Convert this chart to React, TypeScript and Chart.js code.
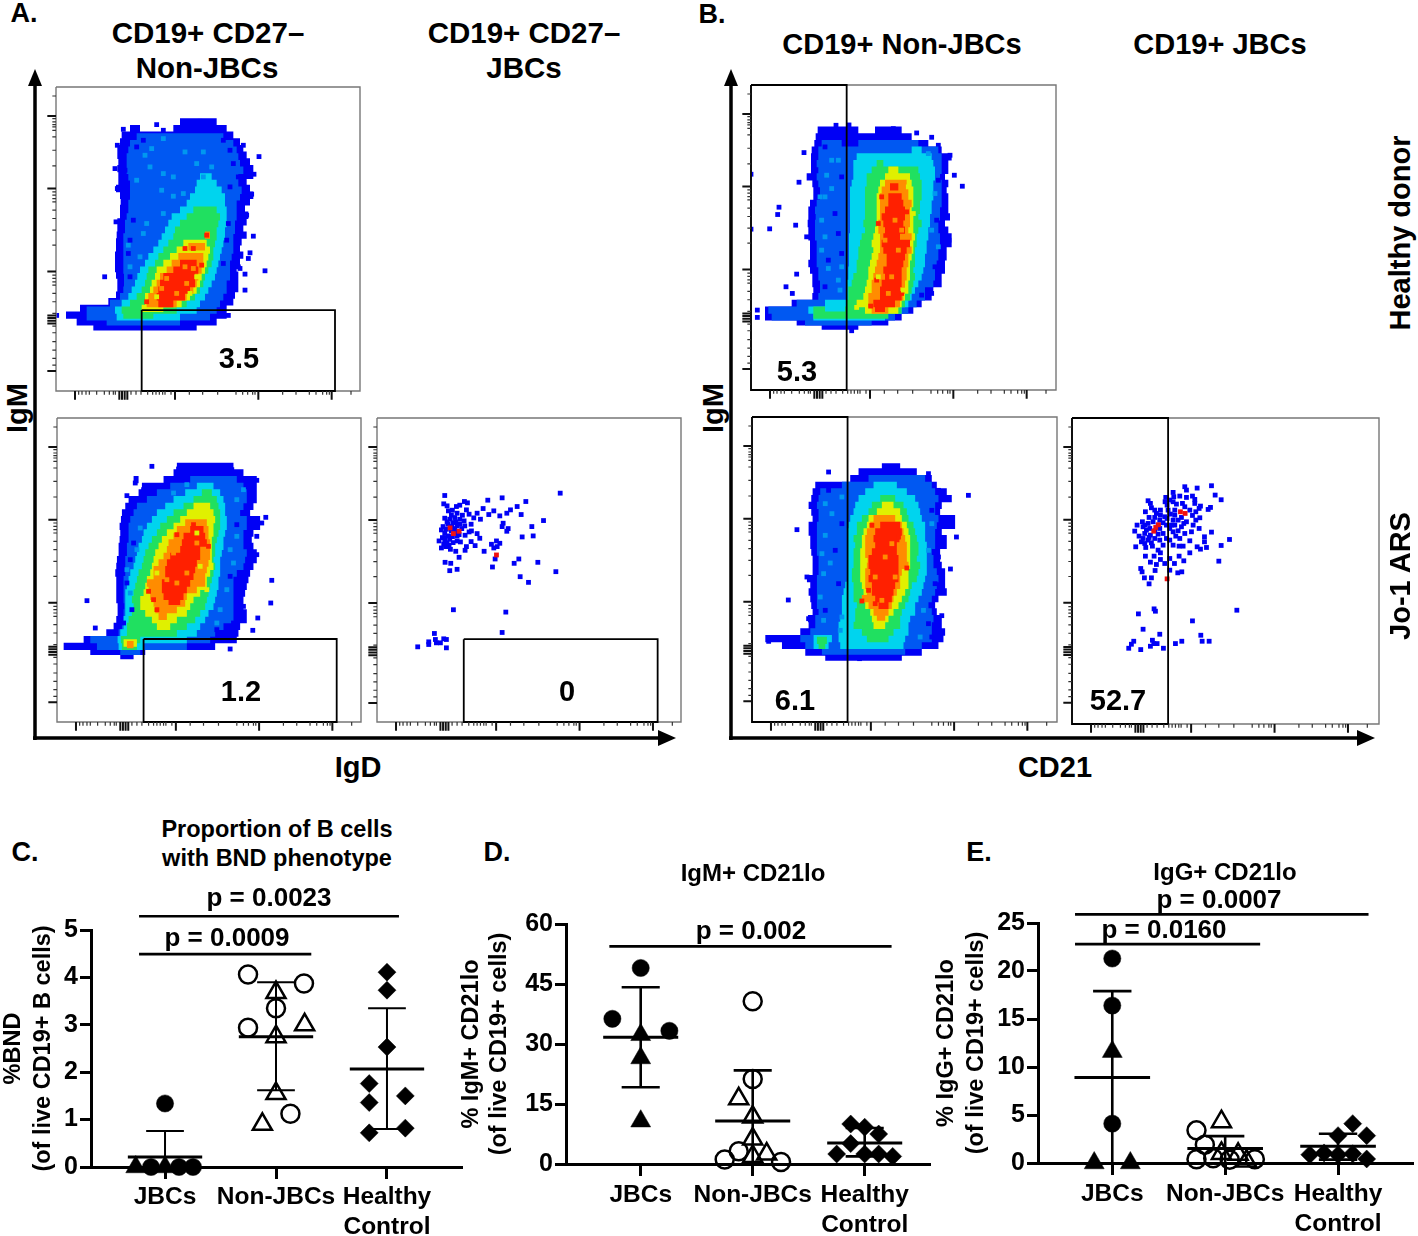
import React, { useEffect, useRef } from "react";
import { Chart, registerables } from "chart.js";

Chart.register(...registerables);

const FONT = '"Liberation Sans", Arial, sans-serif';
const DENSITY = ["#0000f5", "#0058f2", "#00d4ee", "#20e060", "#e0f000", "#ff8c00", "#ff2000"];
const LIGHT = "#0098f0";
type Row = [number, number, number];

// ---- Flow plots: density bands as [channelY, fromX, toX] rows ----
const p1Blue: Row[] = [[125,450,560],[145,300,330],[145,430,590],[165,275,610],[185,270,630],[205,262,640],[225,262,650],[245,265,660],[265,262,670],[285,265,670],[305,265,650],[325,258,660],[345,270,670],[365,272,660],[385,270,645],[405,270,655],[425,262,650],[445,262,640],[465,260,650],[485,258,635],[505,258,630],[525,255,640],[545,255,630],[565,255,620],[585,258,625],[605,262,625],[625,262,625],[645,258,615],[665,235,610],[685,150,590],[705,108,590],[725,140,560],[740,190,500]];
const p1Azure: Row[] = [[170,320,580],[190,300,610],[210,295,620],[230,290,625],[250,290,630],[270,290,640],[290,295,625],[310,300,625],[330,300,635],[350,300,630],[370,295,620],[390,295,620],[410,290,620],[430,285,615],[450,285,615],[470,280,610],[490,280,610],[510,280,610],[530,280,605],[550,280,600],[570,280,600],[590,282,600],[610,282,590],[630,280,590],[650,270,580],[670,240,570],[690,170,560],[710,170,540],[725,230,450]];
const p1Cyan: Row[] = [[290,510,545],[310,500,560],[330,495,575],[350,480,585],[370,470,585],[390,450,590],[410,425,590],[430,415,590],[450,405,585],[470,395,585],[490,385,580],[510,370,575],[530,355,570],[550,345,565],[570,330,560],[590,322,555],[610,315,545],[630,305,535],[650,295,525],[670,275,510],[690,255,500],[710,260,450]];
const p1Green: Row[] = [[390,490,560],[410,470,570],[430,450,565],[450,435,560],[470,430,560],[490,415,555],[510,400,550],[530,385,550],[550,375,545],[570,355,535],[590,350,525],[610,345,520],[630,335,510],[650,320,495],[670,300,470],[690,275,440],[705,280,370]];
const p1Yellow: Row[] = [[490,460,530],[510,440,540],[530,420,535],[550,400,530],[570,380,525],[590,375,515],[610,365,510],[630,360,500],[650,345,480],[670,345,455],[685,335,400]];
const p1Orange: Row[] = [[465,525,540],[500,475,525],[530,445,520],[550,425,520],[570,410,515],[590,390,505],[610,380,500],[630,370,490],[650,355,470],[670,350,440]];
const p1Red: Row[] = [[550,450,500],[570,430,505],[590,400,495],[610,390,495],[630,385,480],[650,380,465],[670,385,430]];
const p1Sparse = [[687,229],[705,572],[224,590],[670,468],[510,123],[380,133],[280,147],[645,630],[80,706],[660,518],[655,535],[630,565],[645,582],[595,706],[262,195],[255,265],[262,325],[400,150],[640,195],[650,250],[672,282],[665,342],[650,405],[625,560],[258,425]];
const p1Light = [[400,175],[345,225],[365,205],[465,215],[520,215],[430,348],[295,495],[340,460],[350,430],[395,330],[320,300],[400,280],[360,260],[500,250],[430,290],[460,340],[400,400],[330,530],[300,560],[545,260],[520,290]];
const p1Deep = [[320,200],[610,250],[600,320],[290,350],[310,420],[300,480],[295,520],[595,430],[590,480],[580,550],[300,590],[600,210],[580,180],[340,180],[285,270],[625,290]];
const p1HotA = [[465,560],[490,565],[410,595],[440,640],[395,625],[470,610]];
const p1HotB = [[530,465],[490,505],[515,555],[350,665],[465,505]];
const p1HotC = [[380,650],[500,590],[480,640]];

const p2Blue: Row[] = [[170,440,610],[190,430,640],[210,310,325],[210,400,680],[230,335,680],[250,325,680],[270,295,680],[290,285,670],[310,275,660],[330,272,690],[350,268,690],[370,270,670],[390,268,665],[410,265,670],[430,265,680],[450,260,680],[470,258,670],[490,255,660],[510,258,655],[530,258,650],[550,258,645],[570,258,640],[590,262,640],[610,262,650],[630,258,650],[650,250,630],[670,228,625],[690,160,620],[710,100,555],[725,180,345],[738,270,310]];
const p2Azure: Row[] = [[210,480,620],[230,420,640],[250,380,650],[270,350,650],[290,320,640],[310,310,630],[330,300,650],[350,295,650],[370,295,640],[390,295,640],[410,290,640],[430,290,650],[450,285,645],[470,285,640],[490,285,620],[510,280,610],[530,280,610],[550,280,610],[570,280,610],[590,282,610],[610,280,610],[630,280,610],[650,275,580],[670,265,555],[690,180,540],[710,200,470],[725,270,330]];
const p2Cyan: Row[] = [[230,500,550],[250,465,570],[270,430,580],[290,405,585],[310,380,585],[330,365,590],[350,350,590],[370,340,585],[390,335,580],[410,325,580],[430,320,575],[450,315,570],[470,310,570],[490,300,570],[510,295,565],[530,290,565],[550,285,560],[570,285,555],[590,285,550],[610,285,535],[630,280,525],[650,280,510],[670,270,500],[690,262,470],[710,265,340]];
const p2Green: Row[] = [[250,515,545],[270,490,560],[290,460,565],[310,430,570],[330,410,570],[350,390,570],[370,380,565],[390,365,560],[410,355,555],[430,345,555],[450,340,550],[470,335,555],[490,325,550],[510,320,545],[530,315,540],[550,310,535],[570,305,530],[590,310,525],[610,305,510],[630,295,495],[650,290,470],[670,290,440],[690,272,330],[710,275,320]];
const p2Yellow: Row[] = [[290,490,540],[310,470,550],[330,450,555],[350,430,550],[370,410,550],[390,395,545],[410,385,545],[430,375,545],[450,370,545],[470,365,550],[490,360,540],[510,350,530],[530,345,530],[550,340,510],[570,330,490],[590,330,480],[610,345,470],[630,365,440],[650,380,420],[700,280,320]];
const p2Orange: Row[] = [[340,465,530],[360,440,535],[380,430,535],[400,415,540],[420,410,540],[440,400,540],[460,385,535],[480,370,530],[500,370,525],[520,350,525],[540,355,500],[560,360,470],[580,370,465],[600,375,440],[620,385,410],[705,290,310]];
const p2Red: Row[] = [[360,480,520],[380,460,525],[400,455,530],[420,450,510],[440,420,510],[460,410,500],[480,405,495],[500,405,490],[520,395,480],[540,395,470],[560,400,460],[575,415,450]];
const p2Sparse = [[170,573],[722,580],[725,512],[707,323],[365,170],[600,718],[195,655],[683,625],[668,662],[290,258],[315,220],[340,240],[445,178],[605,180],[680,212],[695,340],[680,380],[680,435],[655,465],[640,590]];
const p2Light = [[470,225],[430,250],[330,355],[320,420],[290,480],[300,550],[620,380],[600,420],[610,460],[590,540],[570,600],[560,640],[640,240],[620,270]];
const p2Deep = [[300,310],[310,400],[300,450],[290,520],[600,500],[620,600],[610,640],[560,660],[640,310],[620,345],[305,600],[280,640]];
const p2HotA = [[430,430],[470,490],[500,400],[440,520],[410,510]];
const p2HotB = [[370,570],[380,600],[355,545],[440,375],[490,345],[535,410]];
const p2HotC = [[510,470],[530,540],[380,490],[500,370]];

const p3Blue = [[225,259],[222,284],[284,277],[293,281],[354,273],[397,266],[468,277],[571,252],[232,290],[260,292],[270,288],[340,298],[442,292],[422,302],[236,305],[248,303],[290,302],[372,305],[411,312],[454,316],[298,315],[322,312],[357,316],[390,320],[521,334],[312,326],[332,330],[225,327],[240,330],[255,325],[270,330],[283,335],[220,352],[215,362],[235,345],[250,340],[262,350],[276,358],[304,345],[400,342],[397,352],[415,358],[411,366],[486,352],[225,372],[235,380],[218,385],[262,380],[286,378],[298,368],[305,365],[322,373],[330,387],[457,383],[490,380],[208,395],[225,395],[240,390],[272,398],[304,397],[380,395],[390,402],[365,405],[222,405],[238,408],[215,416],[242,420],[290,412],[316,409],[372,416],[382,412],[258,426],[286,423],[343,426],[268,444],[376,449],[447,449],[433,462],[504,459],[226,459],[243,462],[368,473],[262,480],[240,484],[558,487],[451,502],[476,519],[251,601],[408,608],[397,669],[194,672],[197,690],[222,688],[230,690],[177,697],[200,700],[212,700],[177,705],[144,712],[230,715],[245,318],[262,312],[232,338],[246,352],[258,338],[270,345],[230,360],[245,365],[258,368],[268,376],[226,385],[248,382],[232,400],[250,400],[228,412],[262,395],[255,358],[278,318],[285,350]];
const p3Red = [[241,356],[268,366],[251,373],[380,437]];

const p4Blue: Row[] = [[150,278,400],[150,450,530],[170,272,560],[190,268,610],[210,260,650],[230,258,680],[250,258,670],[270,258,670],[290,245,660],[310,262,670],[330,265,665],[350,265,670],[370,255,670],[390,250,670],[410,250,675],[430,248,660],[450,250,670],[470,250,680],[490,255,680],[510,255,665],[530,255,665],[550,250,660],[570,255,660],[590,262,650],[610,262,650],[630,265,625],[650,262,620],[670,200,590],[690,120,565],[710,120,530],[725,215,490],[738,290,400]];
const p4Azure: Row[] = [[190,290,350],[190,400,580],[210,280,640],[230,280,650],[250,275,650],[270,280,650],[290,275,645],[310,280,650],[330,285,650],[350,285,650],[370,275,650],[390,270,645],[410,272,645],[430,270,640],[450,270,640],[470,270,645],[490,275,645],[510,275,640],[530,275,640],[550,275,635],[570,280,630],[590,280,630],[610,285,625],[630,285,600],[650,280,600],[670,215,575],[690,130,550],[710,140,510],[725,240,440]];
const p4Cyan: Row[] = [[210,560,590],[230,395,620],[250,385,625],[270,385,630],[290,385,630],[310,380,625],[330,375,625],[350,375,625],[370,375,620],[390,375,620],[410,375,615],[430,375,615],[450,375,610],[470,372,610],[490,372,605],[510,372,605],[530,372,600],[550,372,600],[570,370,595],[590,370,590],[610,365,580],[630,365,570],[650,365,560],[670,300,550],[690,250,530],[710,265,480]];
const p4Green: Row[] = [[250,455,475],[270,440,580],[290,425,585],[310,425,590],[330,420,590],[350,420,590],[370,420,585],[390,420,585],[410,420,580],[430,415,590],[450,420,580],[470,410,575],[490,405,575],[510,400,570],[530,400,570],[550,395,570],[570,395,565],[590,385,570],[610,380,565],[630,370,560],[650,370,555],[670,365,540],[690,265,300],[690,360,530],[705,265,490]];
const p4Yellow: Row[] = [[270,490,520],[290,480,555],[310,465,560],[330,460,565],[350,455,565],[370,455,565],[390,455,560],[410,455,565],[430,455,565],[450,450,565],[470,445,570],[490,440,565],[510,445,565],[530,440,560],[550,435,555],[570,430,555],[590,430,555],[610,425,550],[630,420,550],[650,415,540],[670,395,530],[690,420,520]];
const p4Orange: Row[] = [[310,480,545],[330,470,550],[350,465,550],[370,465,560],[390,465,555],[410,465,555],[430,460,555],[450,460,550],[470,465,560],[490,465,555],[510,465,560],[530,460,550],[550,455,550],[570,450,545],[590,445,545],[610,440,540],[630,440,540],[650,430,535],[670,430,525],[690,440,490]];
const p4Red: Row[] = [[320,495,520],[350,490,530],[370,490,535],[390,480,540],[410,470,540],[430,475,535],[450,480,540],[470,475,525],[490,470,555],[510,475,545],[530,485,540],[550,485,535],[570,475,530],[590,480,530],[610,470,530],[630,465,525],[650,465,530],[670,445,510],[685,450,480]];
const p4Sparse = [[333,135],[372,134],[237,217],[222,306],[162,381],[158,403],[134,446],[212,435],[78,447],[78,282],[215,582],[183,620],[202,640],[712,318],[688,285],[380,752],[620,171],[640,195],[672,480],[97,690],[97,712],[505,145],[575,158],[675,225],[245,470],[260,550]];
const p4Light = [[320,240],[340,240],[305,285],[320,325],[290,420],[300,470],[290,510],[310,565],[350,560],[300,350],[630,340],[620,450],[640,500],[345,630],[340,600],[285,350],[610,220]];
const p4Deep = [[300,200],[350,290],[330,400],[340,460],[350,520],[300,620],[640,300],[635,420],[630,560],[620,640],[590,645],[310,540]];
const p4HotA = [[510,420],[480,480],[520,510],[500,590],[490,640],[530,450]];
const p4HotB = [[470,350],[545,395],[460,430],[455,600],[530,640],[437,678]];
const p4HotC = [[550,320],[460,590],[535,630],[395,682],[565,400]];

const p5Blue: Row[] = [[170,470,525],[185,400,575],[205,375,620],[225,270,635],[245,262,665],[265,258,680],[285,250,650],[305,258,645],[325,262,690],[345,250,690],[365,250,650],[385,255,665],[405,255,665],[425,258,645],[445,262,645],[465,262,650],[485,262,660],[505,245,660],[525,255,660],[545,250,665],[565,255,640],[585,258,630],[605,262,635],[625,248,650],[645,250,650],[665,225,660],[685,120,655],[705,170,640],[725,240,590],[740,300,530]];
const p5Azure: Row[] = [[205,430,600],[225,350,620],[245,285,630],[265,280,640],[285,275,630],[305,280,630],[325,280,640],[345,275,635],[365,275,630],[385,275,630],[405,275,630],[425,275,620],[445,280,625],[465,280,625],[485,280,635],[505,275,640],[525,275,635],[545,275,630],[565,275,620],[585,275,610],[605,280,620],[625,270,625],[645,270,620],[665,255,620],[685,225,620],[705,240,590],[722,290,540]];
const p5Cyan: Row[] = [[225,445,515],[245,420,545],[265,400,570],[285,390,580],[305,385,585],[325,375,590],[345,370,600],[365,365,600],[385,365,600],[405,365,605],[425,365,605],[445,365,605],[465,365,605],[485,365,605],[505,365,600],[525,360,595],[545,355,590],[565,350,580],[585,350,570],[605,350,570],[625,345,555],[645,340,550],[665,340,550],[685,265,320],[685,340,540],[705,265,310],[705,345,535]];
const p5Green: Row[] = [[265,465,510],[285,440,535],[305,430,545],[325,410,550],[345,395,565],[365,395,570],[385,385,575],[405,390,580],[425,385,580],[445,385,575],[465,385,585],[485,380,580],[505,380,575],[525,385,560],[545,385,555],[565,385,550],[585,395,540],[605,390,530],[625,390,525],[645,385,525],[665,410,505],[685,425,490],[690,275,305],[705,280,300]];
const p5Yellow: Row[] = [[285,470,505],[305,455,525],[325,430,530],[345,425,545],[365,415,550],[385,410,555],[405,410,555],[425,405,555],[445,405,555],[465,405,555],[485,405,550],[505,405,550],[525,410,550],[545,415,540],[565,410,530],[585,420,520],[605,435,505],[625,440,490],[645,445,480]];
const p5Orange: Row[] = [[325,445,510],[345,435,530],[365,425,535],[385,420,540],[405,420,545],[425,420,545],[445,420,545],[465,425,550],[485,420,530],[505,420,525],[525,420,525],[545,425,515],[565,410,505],[585,430,500],[605,445,490],[620,455,480]];
const p5Red: Row[] = [[345,465,525],[365,450,530],[385,445,525],[405,450,515],[425,440,515],[445,430,520],[465,430,520],[485,435,520],[505,430,520],[525,440,510],[545,440,505],[565,450,500],[585,460,490]];
const p5Sparse = [[189,569],[215,358],[730,255],[694,380],[676,476],[650,616],[403,745],[310,185],[130,693],[140,687],[625,655],[245,500],[250,625],[610,190],[640,240]];
const p5Light = [[320,310],[300,375],[290,430],[315,458],[295,490],[285,560],[345,660],[350,620],[295,630],[620,340],[610,420],[595,600],[585,680],[350,260],[300,280]];
const p5Deep = [[310,240],[350,340],[330,420],[340,520],[300,600],[620,300],[640,440],[630,520],[610,640],[620,680]];
const p5HotA = [[500,400],[480,440],[450,500],[510,500],[470,570],[530,395]];
const p5HotB = [[440,345],[520,380],[545,473],[410,572],[430,540],[450,580]];
const p5HotC = [[540,520],[420,450],[490,300]];

const p6Blue = [[455,227],[375,230],[380,240],[412,234],[340,247],[466,255],[342,260],[360,258],[380,262],[398,258],[405,268],[484,269],[318,262],[265,272],[272,280],[316,275],[322,285],[340,275],[368,280],[405,280],[275,293],[257,305],[285,300],[302,300],[325,300],[345,300],[422,288],[452,292],[445,298],[408,305],[418,295],[290,310],[302,315],[345,315],[398,316],[420,323],[408,330],[248,335],[232,345],[265,340],[280,335],[300,330],[322,325],[340,330],[355,330],[380,335],[400,345],[418,355],[225,363],[250,350],[260,360],[300,355],[320,345],[345,345],[365,350],[238,378],[255,370],[272,375],[310,370],[340,365],[375,370],[395,365],[455,366],[245,395],[265,390],[285,385],[300,390],[330,390],[348,378],[390,392],[434,380],[434,395],[509,388],[228,410],[258,412],[278,408],[295,420],[340,405],[358,408],[370,408],[412,410],[422,417],[440,412],[484,406],[302,428],[390,428],[257,438],[283,438],[330,445],[358,438],[272,456],[302,448],[290,463],[315,460],[344,460],[372,452],[477,453],[243,475],[247,485],[286,481],[330,480],[354,488],[366,485],[254,503],[275,503],[268,521],[283,596],[287,603],[236,611],[531,600],[398,632],[250,657],[300,672],[423,675],[222,693],[278,690],[215,702],[207,714],[243,718],[272,708],[282,700],[292,700],[311,714],[347,700],[366,693],[427,693],[448,693],[268,322],[285,322],[310,338],[332,312],[365,322],[372,340],[255,345],[270,355],[285,362],[330,355],[355,362],[268,382],[295,372],[320,385],[360,385],[255,400],[310,405],[275,398],[335,345],[350,282],[315,320],[295,345],[250,385],[330,270],[390,300],[375,290]];
const p6Red = [[282,363],[288,352],[296,344],[362,305],[376,310],[322,506]];

// Axis tick offsets, in channel units from each plot's top / left edge
const yMajorTicks = [87, 305, 554, 686, 694, 702, 710, 853];
const yMinorTicks = [27, 95, 105, 113, 120, 130, 150, 190, 237, 315, 325, 335, 345, 370, 395, 430, 475, 565, 575, 585, 595, 620, 645, 680, 718, 738, 765, 790, 815, 835];
const xMajorTicks = [57, 190, 198, 206, 214, 357, 607, 827];
const xMinorTicks = [68, 78, 90, 100, 122, 145, 160, 172, 178, 225, 240, 255, 275, 290, 300, 310, 320, 327, 345, 400, 440, 485, 540, 560, 575, 590, 597, 680, 720, 760, 780, 800, 812, 820, 885];

// ---- Dot plots ----
const groupLabels: (string | string[])[] = ["JBCs", "Non-JBCs", ["Healthy", "Control"]];

const cJbcCircles = [[1, 1.34], [0.874, 0], [1.126, 0], [1.252, 0]];
const cJbcTriangles = [[0.736, 0], [1, 0]];
const cNonCircles = [[1.748, 4.06], [2.252, 3.87], [2, 3.35], [1.748, 2.94], [2.13, 1.125]];
const cNonTriangles = [[2, 3.68], [2.258, 3.0], [2, 2.75], [2, 1.55], [1.877, 0.9]];
const cHealthy = [[3, 4.11], [3, 3.73], [3, 2.53], [2.84, 1.76], [2.84, 1.36], [3.165, 1.5], [2.84, 0.72], [3.165, 0.82]];
const cSummary = [[1, 0.21, 0.76, null], [2, 2.75, 3.9, 1.62], [3, 2.07, 3.35, 0.8]];
const cBrackets = [[0.766, 3.108, 5.29], [0.766, 2.318, 4.49]];

const dJbcCircles = [[1, 49], [0.747, 36.3], [1.256, 33.3]];
const dJbcTriangles = [[1, 32.3], [1, 26.5], [1, 10.7]];
const dNonCircles = [[2, 40.7], [2, 21.25], [1.875, 3.2], [1.75, 1.1], [2.253, 0.5]];
const dNonTriangles = [[1.875, 16.3], [2, 11.75], [2, 6.25], [2.125, 2.5], [2, 1.9]];
const dHealthy = [[2.875, 10], [3, 9.2], [3.125, 7.5], [2.875, 5.1], [2.75, 2.5], [3, 2.5], [3.125, 2.5], [3.25, 1.9]];
const dSummary = [[1, 31.7, 44.2, 19.2], [2, 10.75, 23.4, null], [3, 5.25, 9, 1.9]];
const dBrackets = [[0.72, 3.24, 54.4]];

const eJbcCircles = [[1, 21.3], [1, 16.4], [1, 4.1]];
const eJbcTriangles = [[1, 11.6], [0.84, 0], [1.16, 0]];
const eNonCircles = [[1.746, 3.4], [1.82, 1.9], [1.746, 0.4], [1.894, 0.5], [2.04, 0.35], [2.263, 0.4]];
const eNonTriangles = [[1.967, 4.3], [1.967, 1.0], [2.115, 0.9], [2.19, 0.2]];
const eHealthy = [[3.13, 4.1], [3, 2.85], [3.254, 2.85], [2.75, 0.87], [2.876, 1.05], [3, 0.87], [3.13, 0.97], [3.254, 0.42]];
const eSummary = [[1, 8.9, 17.9, null], [2, 1.5, 2.8, null], [3, 1.75, 3.05, 0.35]];
const eBrackets = [[0.67, 3.27, 25.9], [0.67, 2.31, 22.8]];

// ---- helpers ----
const toXY = (pts: number[][]) => pts.map(([x, y]) => ({ x, y }));

function rowsToSegments(rows: Row[]) {
  const out: any[] = [];
  rows.forEach(([y, a, b]) => out.push({ x: a, y }, { x: b, y }, { x: NaN, y: NaN }));
  return out;
}

function lineDs(data: any[], color: string, width: number, clip: any = false) {
  return {
    type: "scatter", showLine: true, data, borderColor: color, borderWidth: width,
    borderCapStyle: "butt", pointRadius: 0, clip, spanGaps: false, tension: 0,
  };
}

function pointDs(pts: number[][], color: string, radius: number) {
  return {
    type: "scatter", data: toXY(pts), pointStyle: "rect", pointRadius: radius,
    pointBackgroundColor: color, pointBorderWidth: 0, showLine: false,
  };
}

// Chart.js paints the first dataset last; this keeps paint order = list order.
const paintInOrder = (datasets: any[]) => datasets.map((d, i) => ({ ...d, order: datasets.length - i }));

interface FlowSpec {
  box: [number, number, number, number]; // page left, top, width, height
  x: [number, number];
  y: [number, number];
  layers: Row[][];
  sparse?: number[][];
  red?: number[][];
  mottle?: [string, number[][]][];
  gate: [number, number, number, number];
}

function FlowPlot({ spec }: { spec: FlowSpec }) {
  const ref = useRef<HTMLCanvasElement>(null);
  useEffect(() => {
    const [xMin, xMax] = spec.x;
    const [yTop, yBottom] = spec.y;
    const datasets: any[] = [];
    if (spec.sparse) datasets.push(pointDs(spec.sparse, DENSITY[0], 3.4));
    spec.layers.forEach((rows, i) => datasets.push(lineDs(rowsToSegments(rows), DENSITY[i], 7.4, true)));
    (spec.mottle ?? []).forEach(([color, pts]) => datasets.push(pointDs(pts, color, 3.4)));
    if (spec.red) datasets.push(pointDs(spec.red, "#f01010", 3.4));
    const frame = [{ x: xMin, y: yTop }, { x: xMax, y: yTop }, { x: xMax, y: yBottom }, { x: xMin, y: yBottom }, { x: xMin, y: yTop }];
    datasets.push(lineDs(frame, "#777777", 1.4));
    const [g0, g1, g2, g3] = spec.gate;
    datasets.push(lineDs([{ x: g0, y: g2 }, { x: g1, y: g2 }, { x: g1, y: g3 }, { x: g0, y: g3 }, { x: g0, y: g2 }], "#000000", 1.8));
    const yTick = (offs: number[], len: number) => offs.flatMap((o) => [{ x: xMin - len, y: yTop + o }, { x: xMin, y: yTop + o }, { x: NaN, y: NaN }]);
    const xTick = (offs: number[], len: number) => offs.flatMap((o) => [{ x: xMin + o, y: yBottom + len }, { x: xMin + o, y: yBottom }, { x: NaN, y: NaN }]);
    datasets.push(lineDs(yTick(yMajorTicks, 26), "#111111", 2));
    datasets.push(lineDs(yTick(yMinorTicks, 11), "#333333", 1.2));
    datasets.push(lineDs(xTick(xMajorTicks, 26), "#111111", 2));
    datasets.push(lineDs(xTick(xMinorTicks, 11), "#333333", 1.2));

    const chart = new Chart(ref.current!, {
      type: "scatter",
      data: { datasets: paintInOrder(datasets) },
      options: {
        animation: false, responsive: false,
        layout: { autoPadding: false, padding: { left: 14, top: 2, right: 2, bottom: 14 } },
        plugins: { legend: { display: false }, tooltip: { enabled: false } },
        events: [],
        scales: {
          x: { type: "linear", min: xMin, max: xMax, display: false },
          y: { type: "linear", min: yTop, max: yBottom, reverse: true, display: false },
        },
      },
    } as any);
    return () => chart.destroy();
  }, []);
  const [l, t, w, h] = spec.box;
  return <canvas ref={ref} width={w + 16} height={h + 16} style={{ position: "absolute", left: l - 14, top: t - 2, width: w + 16, height: h + 16 }} />;
}

function DotPlot({ spec }: { spec: any }) {
  const ref = useRef<HTMLCanvasElement>(null);
  useEffect(() => {
    const [, , , h] = spec.canvas;
    const datasets: any[] = [];
    spec.summary.forEach((row: any) => {
      const [cx, mean, up, low] = row as [number, number, number, number | null];
      const meanHalf = 0.335, capHalf = 0.17;
      const bottom = low ?? 0;
      datasets.push(lineDs([{ x: cx, y: up }, { x: cx, y: bottom }], "#000", spec.stemWidth));
      datasets.push(lineDs([{ x: cx - meanHalf, y: mean }, { x: cx + meanHalf, y: mean }], "#000", 3));
      datasets.push(lineDs([{ x: cx - capHalf, y: up }, { x: cx + capHalf, y: up }], "#000", spec.stemWidth));
      if (low !== null) datasets.push(lineDs([{ x: cx - capHalf, y: low }, { x: cx + capHalf, y: low }], "#000", spec.stemWidth));
    });
    spec.brackets.forEach(([a, b, y]: number[]) => datasets.push(lineDs([{ x: a, y }, { x: b, y }], "#000", 2.6)));
    const marks = (pts: number[][], style: string, r: number, filled: boolean) => ({
      type: "scatter", data: toXY(pts), pointStyle: style, pointRadius: r, clip: false,
      pointBackgroundColor: filled ? "#000" : "rgba(0,0,0,0)", pointBorderColor: "#000",
      pointBorderWidth: filled ? 0.5 : 2.5, showLine: false,
    });
    datasets.push(marks(spec.jbcCircles, "circle", 8.6, true));
    datasets.push(marks(spec.jbcTriangles, "triangle", 11.5, true));
    datasets.push(marks(spec.nonCircles, "circle", 9, false));
    datasets.push(marks(spec.nonTriangles, "triangle", 11, false));
    datasets.push(marks(spec.healthy, "rectRot", 9, true));

    const font = { family: FONT, size: spec.tickSize, weight: "bold" as const };
    const chart = new Chart(ref.current!, {
      type: "scatter",
      data: { datasets },
      options: {
        animation: false, responsive: false, events: [],
        layout: { autoPadding: false, padding: { top: spec.padTop, left: 0, right: 3, bottom: 0 } },
        plugins: { legend: { display: false }, tooltip: { enabled: false } },
        scales: {
          x: {
            type: "linear", min: spec.xRange[0], max: spec.xRange[1],
            afterBuildTicks: (s: any) => { s.ticks = groupLabels.map((_, i) => ({ value: i + 1 })); },
            afterFit: (s: any) => { s.height = h - spec.padTop - spec.plotHeight; },
            grid: { drawOnChartArea: false, tickLength: 12, tickWidth: 3, tickColor: "#000" },
            border: { width: 3, color: "#000" },
            ticks: {
              autoSkip: false, maxRotation: 0, minRotation: 0, padding: spec.labelPad, color: "#000",
              font: { family: FONT, size: 24.5, weight: "bold", lineHeight: 1.2 },
              callback: (v: any) => groupLabels[Number(v) - 1],
            },
          },
          y: {
            type: "linear", min: 0, max: spec.yMax,
            afterFit: (s: any) => { s.width = spec.axisWidth; },
            grid: { drawOnChartArea: false, tickLength: 11, tickWidth: 3, tickColor: "#000" },
            border: { width: 3, color: "#000" },
            ticks: { stepSize: spec.yStep, padding: 2, color: "#000", font },
            title: {
              display: true, text: spec.title, color: "#000", padding: 0,
              font: { family: FONT, size: 23.5, weight: "bold", lineHeight: spec.titleLine },
            },
          },
        },
      },
    } as any);
    return () => chart.destroy();
  }, []);
  const [l, t, w, h] = spec.canvas;
  return <canvas ref={ref} width={w} height={h} style={{ position: "absolute", left: l, top: t, width: w, height: h }} />;
}

function Txt({ x, y, size, rot, children, weight }: any) {
  return (
    <div style={{
      position: "absolute", left: x, top: y, whiteSpace: "nowrap", fontFamily: FONT,
      fontWeight: weight ?? "bold", fontSize: size, color: "#000", lineHeight: 1,
      transform: `translate(-50%,-50%)${rot ? ` rotate(${rot}deg)` : ""}`,
    }}>{children}</div>
  );
}

const mottle = (light: number[][], deep: number[][], a: number[][], b: number[][], c: number[][]): [string, number[][]][] => [
  [LIGHT, light], [DENSITY[0], deep], [DENSITY[5], a], [DENSITY[6], b], [DENSITY[4], c],
];

const flowSpecs: FlowSpec[] = [
  { box: [56, 87, 304, 304], x: [78, 990], y: [20, 933], layers: [p1Blue, p1Azure, p1Cyan, p1Green, p1Yellow, p1Orange, p1Red], sparse: p1Sparse, mottle: mottle(p1Light, p1Deep, p1HotA, p1HotB, p1HotC), gate: [335, 915, 690, 933] },
  { box: [57, 418, 304, 304], x: [80, 993], y: [25, 937], layers: [p2Blue, p2Azure, p2Cyan, p2Green, p2Yellow, p2Orange, p2Red], sparse: p2Sparse, mottle: mottle(p2Light, p2Deep, p2HotA, p2HotB, p2HotC), gate: [340, 920, 688, 937] },
  { box: [377, 418, 304, 304], x: [22, 933], y: [27, 937], layers: [], sparse: p3Blue, red: p3Red, gate: [282, 863, 689, 937] },
  { box: [751, 85, 305, 305], x: [78, 993], y: [14, 930], layers: [p4Blue, p4Azure, p4Cyan, p4Green, p4Yellow, p4Orange, p4Red], sparse: p4Sparse, mottle: mottle(p4Light, p4Deep, p4HotA, p4HotB, p4HotC), gate: [78, 365, 14, 930] },
  { box: [752, 417, 305, 305], x: [80, 996], y: [20, 935], layers: [p5Blue, p5Azure, p5Cyan, p5Green, p5Yellow, p5Orange, p5Red], sparse: p5Sparse, mottle: mottle(p5Light, p5Deep, p5HotA, p5HotB, p5HotC), gate: [80, 367, 20, 935] },
  { box: [1072, 418, 307, 306], x: [37, 957], y: [24, 941], layers: [], sparse: p6Blue, red: p6Red, gate: [37, 325, 24, 941] },
];

const dotSpecs: any[] = [
  { canvas: [-1, 880, 466, 356], axisWidth: 92, padTop: 50, plotHeight: 237, labelPad: 4, tickSize: 25, xRange: [0.333, 3.676], yMax: 5, yStep: 1, stemWidth: 2, title: ["%BND", "(of live CD19+ B cells)"], titleLine: 1.27, jbcCircles: cJbcCircles, jbcTriangles: cJbcTriangles, nonCircles: cNonCircles, nonTriangles: cNonTriangles, healthy: cHealthy, summary: cSummary, brackets: cBrackets },
  { canvas: [457, 880, 476, 356], axisWidth: 109, padTop: 44, plotHeight: 240, labelPad: 5, tickSize: 25, xRange: [0.333, 3.583], yMax: 60, yStep: 15, stemWidth: 2.6, title: ["% IgM+ CD21lo", "(of live CD19+ cells)"], titleLine: 1.2, jbcCircles: dJbcCircles, jbcTriangles: dJbcTriangles, nonCircles: dNonCircles, nonTriangles: dNonTriangles, healthy: dHealthy, summary: dSummary, brackets: dBrackets },
  { canvas: [932, 880, 484, 356], axisWidth: 106, padTop: 43, plotHeight: 240, labelPad: 5, tickSize: 25, xRange: [0.342, 3.664], yMax: 25, yStep: 5, stemWidth: 2.6, title: ["% IgG+ CD21lo", "(of live CD19+ cells)"], titleLine: 1.27, jbcCircles: eJbcCircles, jbcTriangles: eJbcTriangles, nonCircles: eNonCircles, nonTriangles: eNonTriangles, healthy: eHealthy, summary: eSummary, brackets: eBrackets },
];

export default function App() {
  return (
    <div style={{ position: "absolute", left: 0, top: 0, width: 1418, height: 1236, background: "#fff", overflow: "hidden" }}>
      <svg width={1418} height={760} style={{ position: "absolute", left: 0, top: 0 }}>
        <g stroke="#000" strokeWidth={3.5} fill="none">
          <path d="M35 740 V82 M33 738 H662" />
          <path d="M731 740 V82 M729 738 H1362" />
        </g>
        <g fill="#000">
          <path d="M35 69 L28 86 L42 86 Z" />
          <path d="M676 738 L658 730 L658 746 Z" />
          <path d="M731 69 L724 86 L738 86 Z" />
          <path d="M1375 738 L1357 730 L1357 746 Z" />
        </g>
      </svg>
      {flowSpecs.map((s, i) => <FlowPlot key={i} spec={s} />)}
      {dotSpecs.map((s, i) => <DotPlot key={i} spec={s} />)}

      <Txt x={24} y={13} size={27}>A.</Txt>
      <Txt x={712} y={14} size={27}>B.</Txt>
      <Txt x={208} y={33} size={29.5}>CD19+ CD27–</Txt>
      <Txt x={207} y={68} size={29.5}>Non-JBCs</Txt>
      <Txt x={524} y={33} size={29.5}>CD19+ CD27–</Txt>
      <Txt x={524} y={68} size={29.5}>JBCs</Txt>
      <Txt x={902} y={44} size={29}>CD19+ Non-JBCs</Txt>
      <Txt x={1220} y={44} size={29}>CD19+ JBCs</Txt>
      <Txt x={17} y={408} size={29} rot={-90}>IgM</Txt>
      <Txt x={713} y={408} size={29} rot={-90}>IgM</Txt>
      <Txt x={358} y={767} size={29}>IgD</Txt>
      <Txt x={1055} y={767} size={29}>CD21</Txt>
      <Txt x={1400} y={233} size={29} rot={-90}>Healthy donor</Txt>
      <Txt x={1400} y={576} size={29} rot={-90}>Jo-1 ARS</Txt>

      <Txt x={239} y={358} size={29}>3.5</Txt>
      <Txt x={241} y={691} size={29}>1.2</Txt>
      <Txt x={567} y={691} size={29}>0</Txt>
      <Txt x={797} y={371} size={29}>5.3</Txt>
      <Txt x={795} y={700} size={29}>6.1</Txt>
      <Txt x={1118} y={700} size={29}>52.7</Txt>

      <Txt x={25} y={852} size={27}>C.</Txt>
      <Txt x={497} y={852} size={27}>D.</Txt>
      <Txt x={979} y={852} size={27}>E.</Txt>
      <Txt x={277} y={830} size={23.5}>Proportion of B cells</Txt>
      <Txt x={277} y={859} size={23.5}>with BND phenotype</Txt>
      <Txt x={753} y={873} size={24}>IgM+ CD21lo</Txt>
      <Txt x={1225} y={872} size={24}>IgG+ CD21lo</Txt>
      <Txt x={269} y={897} size={26}>p = 0.0023</Txt>
      <Txt x={227} y={937} size={26}>p = 0.0009</Txt>
      <Txt x={751} y={930} size={26}>p = 0.002</Txt>
      <Txt x={1219} y={899} size={26}>p = 0.0007</Txt>
      <Txt x={1164} y={929} size={26}>p = 0.0160</Txt>
    </div>
  );
}
